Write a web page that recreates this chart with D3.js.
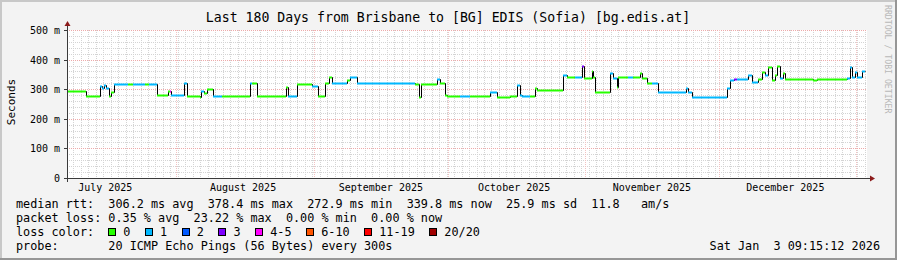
<!DOCTYPE html>
<html>
<head>
<meta charset="utf-8">
<script src="https://cdn.jsdelivr.net/npm/d3@7"></script>
<style>
  body { margin: 0; background: #f3f3f3; }
  svg text { font-family: "DejaVu Sans Mono", monospace; white-space: pre; }
</style>
</head>
<body>
<svg id="chart" width="897" height="260"></svg>
<script>
const endTime = new Date(2026, 0, 3, 9, 15, 12);
const startTime = d3.timeDay.offset(endTime, -180);

// median rtt as steps: start of step (days after startTime), median (ms), lost pings out of 20
const stepDays = [0, 4.28, 7.43, 7.88, 8.33, 8.78, 9.45, 9.9, 10.58, 13.73, 14.85, 17.55, 18.45,
  20.25, 22.73, 23.18, 23.4, 26.33, 27.0, 29.93, 30.15, 30.83, 31.5, 32.85, 34.88, 41.18, 41.63,
  42.75, 49.28, 49.73, 51.75, 55.13, 56.48, 58.05, 58.95, 59.63, 63.0, 63.68, 65.25, 76.73, 78.3,
  79.2, 79.65, 83.25, 83.93, 85.05, 85.5, 88.43, 90.68, 95.18, 96.75, 99.68, 101.25, 101.93,
  102.38, 104.18, 105.3, 105.75, 111.6, 112.5, 114.3, 115.88, 116.33, 118.13, 118.35, 118.8,
  122.18, 122.85, 123.75, 123.98, 126.23, 127.35, 128.93, 129.38, 130.5, 131.63, 132.98, 139.28,
  139.73, 140.63, 145.13, 148.5, 149.18, 150.08, 150.75, 153.23, 154.13, 155.48, 156.38, 157.05,
  157.73, 158.63, 159.3, 159.75, 160.43, 161.1, 161.55, 167.85, 168.75, 175.5, 176.18, 176.63,
  177.3, 177.75, 178.88];
const medianMs = [293, 277, 312, 303, 314, 305, 277, 292, 317, 317, 317, 317, 317,
  280, 294, 294, 280, 320, 277, 273, 295, 286, 300, 277, 277, 320, 320,
  277, 307, 277, 318, 311, 277, 320, 342, 320, 331, 342, 320, 322, 318,
  275, 318, 333, 322, 280, 277, 277, 277, 292, 273, 277, 314, 280,
  277, 277, 303, 297, 348, 342, 342, 378, 337, 361, 340, 292,
  354, 337, 308, 340, 340, 340, 356, 337, 320, 320, 292, 303,
  292, 275, 273, 303, 331, 333, 333, 348, 325, 333, 359, 348,
  374, 331, 348, 378, 337, 354, 333, 331, 333, 337, 374, 342,
  359, 342, 362];
const lossPings = [0, 0, 1, 1, 1, 1, 0, 0, 1, 0, 1, 0, 1,
  0, 0, 4, 1, 1, 0, 0, 1, 0, 0, 1, 0, 1, 0,
  0, 0, 1, 0, 1, 0, 0, 0, 1, 0, 1, 1, 1, 0,
  0, 0, 1, 0, 0, 0, 1, 0, 1, 0, 0, 1, 1,
  1, 0, 0, 0, 1, 0, 1, 3, 0, 0, 0, 0,
  1, 1, 0, 0, 1, 0, 0, 0, 0, 1, 1, 1,
  1, 1, 1, 1, 1, 3, 1, 1, 1, 0, 0, 1,
  0, 0, 0, 0, 1, 0, 0, 0, 0, 1, 1, 1,
  1, 1, 1];
const lineEndDay = 179.55;

const lossLabels = ['0', '1', '2', '3', '4-5', '6-10', '11-19', '20/20'];
const lossColors = ['#26ff00', '#00b8ff', '#0059ff', '#7e00ff', '#ff00ff', '#ff5500', '#ff0000', '#a00000'];
const yTicks = [0, 100, 200, 300, 400, 500];

const titleText = 'Last 180 Days from Brisbane to [BG] EDIS (Sofia) [bg.edis.at]';
const statsRtt = 'median rtt:  306.2 ms avg  378.4 ms max  272.9 ms min  339.8 ms now  25.9 ms sd  11.8   am/s';
const statsLoss = 'packet loss: 0.35 % avg  23.22 % max  0.00 % min  0.00 % now';
const probeText = 'probe:       20 ICMP Echo Pings (56 Bytes) every 300s';
const stampText = 'Sat Jan  3 09:15:12 2026';

function lossBucket(n) {
  if (n <= 3) return n;
  if (n <= 5) return 4;
  if (n <= 10) return 5;
  if (n <= 19) return 6;
  return 7;
}
const dayToDate = d => new Date(startTime.getTime() + d * 864e5);

const W = 897, H = 260;
const plot = { left: 67, right: 867, top: 30, bottom: 178 };
const svg = d3.select('#chart');

// background with rrdtool shading
svg.append('rect').attr('width', W).attr('height', H).attr('fill', '#f3f3f3');
svg.append('path').attr('d', `M0,0H${W}V2H2V${H}H0Z`).attr('fill', '#c8c8c8');
svg.append('path').attr('d', `M${W},${H}H0V${H - 2}H${W - 2}V0H${W}Z`).attr('fill', '#969696');
svg.append('rect')
  .attr('x', plot.left).attr('y', plot.top)
  .attr('width', plot.right - plot.left).attr('height', plot.bottom - plot.top)
  .attr('fill', '#ffffff');

const x = d3.scaleTime().domain([startTime, endTime]).range([plot.left, plot.right]);
const y = d3.scaleLinear().domain([0, 500]).range([plot.bottom, plot.top]);

const grid = svg.append('g').attr('shape-rendering', 'crispEdges');
const minorGrid = '#d4d4d4', majorGrid = '#eeaaaa';
// minor horizontal grid every 20 ms
d3.range(20, 500, 20).filter(v => v % 100 !== 0).forEach(v => {
  grid.append('line')
    .attr('x1', plot.left).attr('x2', plot.right)
    .attr('y1', Math.round(y(v)) + 0.5).attr('y2', Math.round(y(v)) + 0.5)
    .attr('stroke', minorGrid).attr('stroke-dasharray', '1,1');
});
// minor vertical grid
d3.range(1.42, 180, 1.68).forEach(d => {
  const px = Math.round(x(dayToDate(d))) + 0.5;
  grid.append('line')
    .attr('x1', px).attr('x2', px)
    .attr('y1', plot.top).attr('y2', plot.bottom)
    .attr('stroke', minorGrid).attr('stroke-dasharray', '1,1');
});
// major grid
yTicks.filter(v => v > 0).forEach(v => {
  grid.append('line')
    .attr('x1', plot.left).attr('x2', plot.right)
    .attr('y1', Math.round(y(v)) + 0.5).attr('y2', Math.round(y(v)) + 0.5)
    .attr('stroke', majorGrid).attr('stroke-dasharray', '1,1');
});
const months = d3.timeMonth.range(d3.timeMonth.ceil(startTime), endTime);
months.forEach(m => {
  const px = Math.round(x(m)) + 0.5;
  grid.append('line')
    .attr('x1', px).attr('x2', px)
    .attr('y1', plot.top).attr('y2', plot.bottom)
    .attr('stroke', '#f2c2c2').attr('stroke-dasharray', '1,1');
});

// median line: black steps, then coloured by loss
const pts = stepDays.map((d, i) => [dayToDate(d), medianMs[i]]);
pts.push([dayToDate(lineEndDay), medianMs[medianMs.length - 1]]);
svg.append('path')
  .attr('d', d3.line().curve(d3.curveStepAfter).x(p => Math.round(x(p[0])) + 0.5).y(p => Math.round(y(p[1])) + 0.5)(pts))
  .attr('fill', 'none').attr('stroke', '#000').attr('stroke-width', 1);

svg.append('g').selectAll('line')
  .data(stepDays.map((d, i) => ({ d0: d, d1: i + 1 < stepDays.length ? stepDays[i + 1] : lineEndDay, v: medianMs[i], loss: lossPings[i] })))
  .join('line')
  .attr('x1', s => Math.round(x(dayToDate(s.d0))))
  .attr('x2', s => Math.round(x(dayToDate(s.d1))))
  .attr('y1', s => Math.round(y(s.v)) + 0.5)
  .attr('y2', s => Math.round(y(s.v)) + 0.5)
  .attr('stroke', s => lossColors[lossBucket(s.loss)])
  .attr('stroke-width', 2);

// axes
const axisColor = '#3a3a3a', arrowColor = '#8c1b1b';
svg.append('line').attr('x1', plot.left - 3).attr('x2', plot.right + 3)
  .attr('y1', plot.bottom + 0.5).attr('y2', plot.bottom + 0.5).attr('stroke', axisColor);
svg.append('line').attr('x1', plot.left + 0.5).attr('x2', plot.left + 0.5)
  .attr('y1', plot.bottom + 4).attr('y2', plot.top - 5).attr('stroke', axisColor);
svg.append('path').attr('d', `M${plot.right + 3},${plot.bottom - 2.5}L${plot.right + 8},${plot.bottom + 0.5}L${plot.right + 3},${plot.bottom + 3.5}Z`).attr('fill', arrowColor);
svg.append('path').attr('d', `M${plot.left - 2.5},${plot.top - 4}L${plot.left + 0.5},${plot.top - 9}L${plot.left + 3.5},${plot.top - 4}Z`).attr('fill', arrowColor);

yTicks.forEach(v => {
  const py = Math.round(y(v)) + 0.5;
  svg.append('line').attr('x1', plot.left - 3).attr('x2', plot.left).attr('y1', py).attr('y2', py).attr('stroke', axisColor);
  svg.append('text').attr('x', 60).attr('y', py + 3.5).attr('text-anchor', 'end')
    .attr('font-size', 10).attr('fill', '#000').text(v === 0 ? '0' : `${v} m`);
});
months.concat([d3.timeMonth.floor(startTime)]).forEach(m => {
  const c = x(d3.timeDay.offset(m, 15));
  if (c < plot.left || c > plot.right) return;
  svg.append('text').attr('x', c).attr('y', 191).attr('text-anchor', 'middle')
    .attr('font-size', 10).attr('fill', '#000').text(d3.timeFormat('%B %Y')(m));
});

// titles
svg.append('text').attr('x', 448).attr('y', 22).attr('text-anchor', 'middle')
  .attr('font-size', 13.2).attr('fill', '#000').text(titleText);
svg.append('text').attr('transform', 'translate(15,102) rotate(-90)').attr('text-anchor', 'middle')
  .attr('font-size', 11).attr('fill', '#000').text('Seconds');
svg.append('text').attr('transform', 'translate(885,5) rotate(90)')
  .attr('font-size', 8.2).attr('fill', '#b8b8b8').text('RRDTOOL / TOBI OETIKER');

// legend
const charW = 7.09;
const legend = svg.append('g').attr('font-size', 11.8).attr('fill', '#000');
legend.append('text').attr('x', 16).attr('y', 208).text(statsRtt);
legend.append('text').attr('x', 16).attr('y', 222).text(statsLoss);
legend.append('text').attr('x', 16).attr('y', 236).text('loss color:');
legend.append('text').attr('x', 16).attr('y', 250).text(probeText);
legend.append('text').attr('x', 880).attr('y', 250).attr('text-anchor', 'end').text(stampText);

let cursor = 16 + 13 * charW;
lossLabels.forEach((lab, i) => {
  legend.append('rect').attr('x', Math.round(cursor) + 0.5).attr('y', 228.5).attr('width', 7).attr('height', 7)
    .attr('fill', lossColors[i]).attr('stroke', '#000');
  legend.append('text').attr('x', cursor + 15).attr('y', 236).text(lab);
  cursor += 15 + (lab.length + 2) * charW + 0.5;
});
</script>
</body>
</html>
